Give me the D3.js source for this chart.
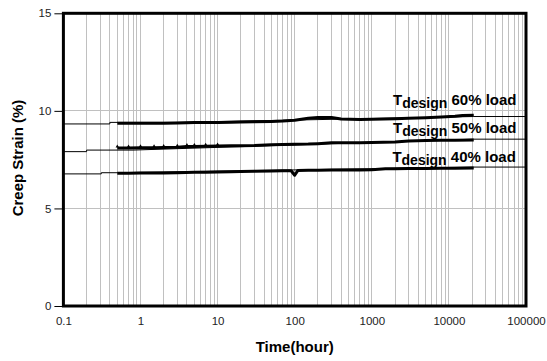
<!DOCTYPE html>
<html lang="en">
<head>
<meta charset="UTF-8">
<title>Creep Strain vs Time</title>
<script src="https://d3js.org/d3.v7.min.js"></script>
<style>
  body { margin: 0; background: #fff; }
  .axis text { font: 11.5px Arial, "Liberation Sans", sans-serif; fill: #222; }
  .grid line { stroke: #c0c0c0; stroke-width: 1; shape-rendering: crispEdges; }
  .title { font: bold 15px Arial, "Liberation Sans", sans-serif; fill: #000; }
  .lbl { font: bold 15px Arial, "Liberation Sans", sans-serif; fill: #000; }
  .fit { fill: none; stroke: #000; stroke-width: 1; }
  .meas { fill: none; stroke: #000; stroke-width: 3; stroke-linejoin: round; }
</style>
</head>
<body>
<svg id="chart"></svg>
<script>
// axis ticks
var xTicks = [0.1, 1, 10, 100, 1000, 10000, 100000];
var yTicks = [0, 5, 10, 15];

// series labels and where they sit (time, strain)
var loads = ["60% load", "50% load", "40% load"];
var labelAt = [[1884, 10.30], [1884, 8.88], [1850, 7.40]];

// measured creep strain (%) vs time (hour)
var meas60 = [[0.5,9.36],[0.7,9.37],[1,9.37],[1.5,9.37],[2,9.37],[3,9.38],[4,9.39],[5,9.40],[7,9.40],[10,9.41],
  [15,9.42],[20,9.43],[30,9.44],[50,9.46],[70,9.48],[100,9.52],[150,9.62],[200,9.66],[300,9.66],[400,9.58],
  [700,9.56],[1000,9.57],[2000,9.60],[3000,9.62],[5000,9.65],[8000,9.68],[12000,9.72],[15000,9.76],[21000,9.77]];
var meas50 = [[0.5,8.10],[0.7,8.10],[1,8.11],[1.5,8.11],[2,8.12],[3,8.14],[4,8.17],[5,8.18],[7,8.19],[10,8.20],
  [15,8.21],[20,8.21],[30,8.22],[50,8.26],[70,8.28],[100,8.29],[150,8.30],[200,8.32],[300,8.36],[500,8.37],
  [700,8.37],[1000,8.38],[2000,8.40],[3000,8.46],[5000,8.48],[8000,8.49],[12000,8.50],[21000,8.51]];
var meas40 = [[0.5,6.80],[0.7,6.80],[1,6.81],[1.5,6.81],[2,6.82],[3,6.83],[5,6.85],[7,6.86],[10,6.87],[15,6.88],
  [20,6.89],[30,6.91],[50,6.92],[70,6.93],[90,6.93],[100,6.70],[110,6.95],[150,6.96],[200,6.96],[300,6.97],
  [500,6.97],[700,6.97],[1000,6.98],[1500,7.03],[2000,7.04],[3000,7.05],[5000,7.05],[8000,7.06],[12000,7.06],[21000,7.07]];

// thin design lines
var fit60 = [[0.1,9.33],[0.4,9.33],[0.4,9.41],[3,9.41],[21000,9.71],[100000,9.71]];
var fit50 = [[0.1,7.91],[0.2,7.91],[0.2,7.99],[0.8,7.99],[21000,8.55],[100000,8.55]];
var fit40 = [[0.1,6.77],[0.31,6.77],[0.31,6.83],[0.5,6.83],[21000,7.12],[100000,7.12]];

var margin = {top: 13.3, right: 21, bottom: 55, left: 63.4},
    W = 547, H = 361,
    width = W - margin.left - margin.right,
    height = H - margin.top - margin.bottom;

var svgRoot = d3.select("#chart").attr("width", W).attr("height", H);
var svg = svgRoot.append("g")
    .attr("transform", "translate(" + margin.left + "," + margin.top + ")");

var x = d3.scaleLog().domain([0.1, 100000]).range([0, width]);
var y = d3.scaleLinear().domain([0, 15]).range([height, 0]);

// grid
var grid = svg.append("g").attr("class", "grid");
grid.selectAll(".vx")
    .data(x.ticks().filter(function(d) { return d > 0.1 && d < 100000; }))
    .enter().append("line")
    .attr("x1", function(d) { return x(d); })
    .attr("x2", function(d) { return x(d); })
    .attr("y1", 0).attr("y2", height);
grid.selectAll(".hy")
    .data([5, 10])
    .enter().append("line")
    .attr("x1", 0).attr("x2", width)
    .attr("y1", function(d) { return y(d); })
    .attr("y2", function(d) { return y(d); });

var line = d3.line()
    .x(function(d) { return x(d[0]); })
    .y(function(d) { return y(d[1]); });

[fit60, fit50, fit40].forEach(function(s) {
    svg.append("path").datum(s).attr("class", "fit").attr("d", line);
});
[meas60, meas50, meas40].forEach(function(s) {
    svg.append("path").datum(s).attr("class", "meas").attr("d", line);
});

// small markers on the early 50% readings
svg.selectAll(".mk")
    .data(meas50.filter(function(d) { return d[0] <= 10; }))
    .enter().append("path")
    .attr("transform", function(d) { return "translate(" + x(d[0]) + "," + (y(d[1]) - 1.5) + ")"; })
    .attr("d", d3.symbol(d3.symbolTriangle, 5))
    .attr("fill", "#000");

// labels
labelAt.forEach(function(p, i) {
    var t = svg.append("text").attr("class", "lbl")
        .attr("x", x(p[0])).attr("y", y(p[1]));
    t.append("tspan").text("T");
    t.append("tspan").attr("dy", 3).style("font-size", "14px").text("design");
    t.append("tspan").attr("dy", -3).text(" " + loads[i]);
});

// axes
svg.append("g").attr("class", "axis")
    .call(d3.axisLeft(y).tickValues(yTicks).tickSize(9).tickPadding(3))
    .call(function(g) { g.select(".domain").remove(); });

svg.append("g").attr("class", "axis")
    .attr("transform", "translate(0," + height + ")")
    .call(d3.axisBottom(x).tickValues(xTicks).tickSize(0).tickPadding(11)
        .tickFormat(function(d) { return String(d); }))
    .call(function(g) { g.select(".domain").remove(); });

// frame
svg.append("rect")
    .attr("width", width).attr("height", height)
    .attr("fill", "none").attr("stroke", "#000").attr("stroke-width", 3);

// titles
svgRoot.append("text").attr("class", "title")
    .attr("text-anchor", "middle")
    .attr("transform", "translate(23,158) rotate(-90)")
    .text("Creep Strain (%)");
svgRoot.append("text").attr("class", "title")
    .attr("text-anchor", "middle")
    .attr("x", margin.left + width / 2).attr("y", 352)
    .text("Time(hour)");
</script>
</body>
</html>
